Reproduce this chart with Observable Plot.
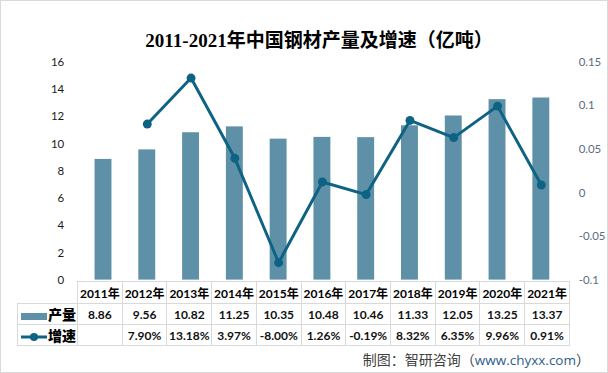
<!DOCTYPE html>
<html>
<head>
<meta charset="utf-8">
<script src="https://cdn.jsdelivr.net/npm/d3@7"></script>
<script src="https://cdn.jsdelivr.net/npm/@observablehq/plot@0.6"></script>
<style>
  html, body { margin: 0; padding: 0; background: #fff; }
  #wrap { position: relative; width: 608px; height: 373px; box-sizing: border-box; border: 1px solid #d9d9d9; overflow: hidden; }
  #title { position: absolute; left: 0; width: 636px; top: 24px; text-align: center; font-family: "Liberation Serif", "Noto Sans CJK SC", serif; font-weight: bold; font-size: 19px; color: #000; white-space: nowrap; }
  #chart { position: absolute; left: -1px; top: -1px; }
  #tbl { position: absolute; left: 16px; top: 280px; border-collapse: collapse; table-layout: fixed; font-family: Lato, "Noto Sans CJK SC", sans-serif; font-weight: bold; font-size: 12px; color: #000; }
  #tbl td { border: 1px solid #d9d9d9; padding: 0; text-align: center; white-space: nowrap; overflow: hidden; }
  #tbl tr.hdr td { height: 21px; }
  #tbl tr.row td { height: 19px; }
  #tbl tr.row td.v { font-weight: bold; color: #111; }
  #tbl td.corner { border-top: none; border-left: none; }
  #tbl td.lab { text-align: left; font-family: "Noto Sans CJK SC", sans-serif; font-size: 14px; font-weight: 900; }
  .sw { display: inline-block; vertical-align: middle; margin: 0 1px 0 3px; }
  #caption { position: absolute; right: 17px; top: 348px; font-family: "Noto Sans CJK SC", sans-serif; font-size: 14px; color: #404040; white-space: nowrap; }
  #caption .url { color: #2f5d8a; font-family: "Open Sans", "Noto Sans CJK SC", sans-serif; font-size: 13.5px; }
</style>
</head>
<body>
<div id="wrap">
  <div id="title">2011-2021年中国钢材产量及增速（亿吨）</div>
  <div id="chart"></div>
  <table id="tbl"></table>
  <div id="caption">制图：智研咨询（<span class="url">www.chyxx.com</span>）</div>
</div>
<script>
const years = ["2011年","2012年","2013年","2014年","2015年","2016年","2017年","2018年","2019年","2020年","2021年"];
const output = [8.86, 9.56, 10.82, 11.25, 10.35, 10.48, 10.46, 11.33, 12.05, 13.25, 13.37];
const growth = [null, 0.079, 0.1318, 0.0397, -0.08, 0.0126, -0.0019, 0.0832, 0.0635, 0.0996, 0.0091];
const outputLabels = ["8.86","9.56","10.82","11.25","10.35","10.48","10.46","11.33","12.05","13.25","13.37"];
const growthLabels = ["","7.90%","13.18%","3.97%","-8.00%","1.26%","-0.19%","8.32%","6.35%","9.96%","0.91%"];
const leftTicks = [0, 2, 4, 6, 8, 10, 12, 14, 16];
const rightTicks = [-0.1, -0.05, 0, 0.05, 0.1, 0.15];
const leftDomain = [0, 16];
const rightDomain = [-0.1, 0.15];

const barColor = "#5e91a8";
const lineColor = "#0e6384";

// map growth values onto the left (primary) scale for the dual axis
const toLeft = g => (g - rightDomain[0]) / (rightDomain[1] - rightDomain[0]) * (leftDomain[1] - leftDomain[0]) + leftDomain[0];
const fromLeft = v => (v - leftDomain[0]) / (leftDomain[1] - leftDomain[0]) * (rightDomain[1] - rightDomain[0]) + rightDomain[0];

const rows = years.map((y, i) => ({year: y, output: output[i], growth: growth[i]}));

const chart = Plot.plot({
  width: 610,
  height: 290,
  marginTop: 62,
  marginBottom: 9,
  marginLeft: 77,
  marginRight: 40,
  style: {fontFamily: "Lato, sans-serif", fontSize: "11.5px", background: "transparent", overflow: "visible"},
  x: {domain: years, paddingInner: 0.62, paddingOuter: 0.31, axis: null},
  y: {domain: leftDomain, axis: null},
  marks: [
    Plot.axisY({ticks: leftTicks, anchor: "left", label: null, tickSize: 0, tickPadding: 13, tickFormat: d => String(d), fill: "#1a1a1a"}),
    Plot.axisY({ticks: rightTicks.map(toLeft), anchor: "right", label: null, tickSize: 0, tickPadding: 11, textAnchor: "start",
      tickFormat: v => String(+fromLeft(v).toFixed(2)), fill: "#5b6b80"}),
    Plot.barY(rows, {x: "year", y: "output", fill: barColor}),
    Plot.line(rows.filter(d => d.growth != null), {x: "year", y: d => toLeft(d.growth), stroke: lineColor, strokeWidth: 3}),
    Plot.dot(rows.filter(d => d.growth != null), {x: "year", y: d => toLeft(d.growth), r: 4.5, fill: lineColor, stroke: "none"})
  ]
});
document.getElementById("chart").appendChild(chart);

// data table under the chart
const tbl = document.getElementById("tbl");
const labW = 60, colW = 492 / years.length;
let html = `<colgroup><col style="width:${labW}px">` + years.map(() => `<col style="width:${colW}px">`).join("") + `</colgroup>`;
html += `<tr class="hdr"><td class="corner"></td>` + years.map(y => `<td>${y}</td>`).join("") + `</tr>`;
html += `<tr class="row"><td class="lab"><span class="sw" style="width:26px;height:7px;background:${barColor}"></span>产量</td>` +
  outputLabels.map(v => `<td class="v">${v}</td>`).join("") + `</tr>`;
html += `<tr class="row"><td class="lab"><svg class="sw" width="26" height="10"><line x1="0" y1="5" x2="26" y2="5" stroke="${lineColor}" stroke-width="3"/><circle cx="13" cy="5" r="4" fill="${lineColor}"/></svg>增速</td>` +
  growthLabels.map(v => `<td class="v">${v}</td>`).join("") + `</tr>`;
tbl.innerHTML = html;
</script>
</body>
</html>
